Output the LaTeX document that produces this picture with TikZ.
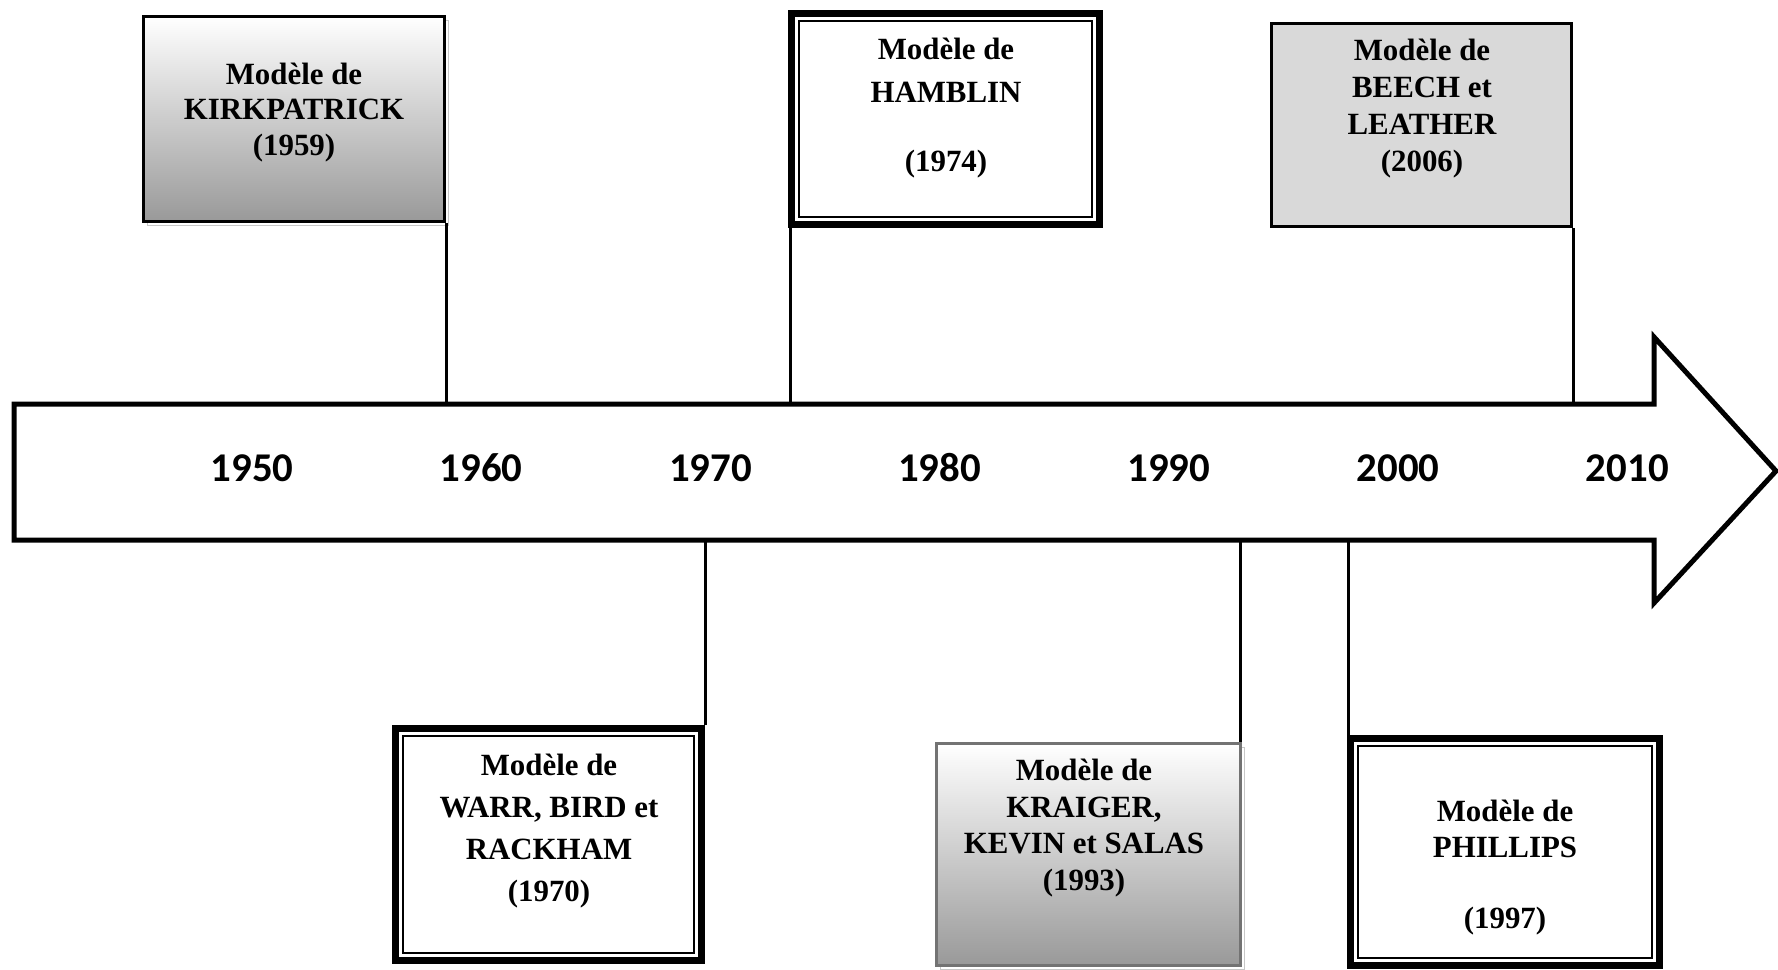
\documentclass[tikz,border=0pt]{standalone}
\usepackage{fontspec}
\setmainfont{Liberation Serif}
\newfontfamily\yearfont{Carlito}
\usetikzlibrary{positioning, calc}

\begin{document}
\begin{tikzpicture}[
    x=1bp, y=-1bp,
    node distance=146bp,
    model/.style={rectangle, draw, line width=3bp, inner sep=0pt},
    shaded/.style={model, top color=white, bottom color=black!40},
    framed/.style={rectangle, draw, line width=7bp, fill=white, inner sep=0pt},
    innerframe/.style={draw, line width=1.5bp},
    shadowed/.style={preaction={draw=black!22, line width=1.5bp, transform canvas={xshift=4bp, yshift=-4bp}}},
    txt/.style={font=\fontsize{31}{36}\selectfont\bfseries, align=center, inner sep=0pt},
    year/.style={font=\yearfont\bfseries\fontsize{41}{41}\selectfont, inner sep=0pt},
    link/.style={line width=3bp},
    timeline/.style={line width=5bp, line join=miter, fill=white}
]
    \useasboundingbox (0,0) rectangle (1778,969);

    % Time arrow
    \draw[timeline] (14,404) -- (1654,404) -- (1654,337) -- (1776,471)
        -- (1654,603) -- (1654,540) -- (14,540) -- cycle;
    \coordinate (bodytop) at (14,404);
    \coordinate (bodybot) at (14,540);

    % Decades
    \node[year] (y1950) at (252,468) {1950};
    \node[year, right=of y1950] (y1960) {1960};
    \node[year, right=of y1960] (y1970) {1970};
    \node[year, right=of y1970] (y1980) {1980};
    \node[year, right=of y1980] (y1990) {1990};
    \node[year, right=of y1990] (y2000) {2000};
    \node[year, right=of y2000] (y2010) {2010};

    % Models above the line
    \node[shaded, shadowed, minimum width=301bp, minimum height=205bp] (kirk) at (294,119) {};
    \node[txt] (kirktxt) at (294,112.5) {Modèle de\\KIRKPATRICK\\(1959)};

    \node[framed, minimum width=308bp, minimum height=211bp] (hamblin) at (945.5,119) {};
    \draw[innerframe] ([shift={(11,11)}]hamblin.north west) rectangle ([shift={(-11,-11)}]hamblin.south east);
    \node[txt] (hamblintxt) at (946,108) {Modèle de\\[7bp]HAMBLIN\\[33bp](1974)};

    \node[model, fill=black!15, minimum width=300bp, minimum height=203bp] (beech) at (1421.5,125) {};
    \node[txt, font=\fontsize{31}{37}\selectfont\bfseries] (beechtxt) at (1422,108.5) {Modèle de\\BEECH et\\LEATHER\\(2006)};

    % Models below the line
    \node[framed, minimum width=306bp, minimum height=232bp] (warr) at (548.5,844.5) {};
    \draw[innerframe] ([shift={(11,11)}]warr.north west) rectangle ([shift={(-11,-11)}]warr.south east);
    \node[txt, font=\fontsize{31}{42}\selectfont\bfseries] (warrtxt) at (549,831) {Modèle de\\WARR, BIRD et\\RACKHAM\\(1970)};

    \node[shaded, shadowed, draw=black!55, minimum width=304bp, minimum height=222bp] (kraiger) at (1088.5,854.5) {};
    \node[txt, font=\fontsize{31}{36.5}\selectfont\bfseries] (kraigertxt) at (1084,828) {Modèle de\\KRAIGER,\\KEVIN et SALAS\\(1993)};

    \node[framed, minimum width=309bp, minimum height=227bp] (phillips) at (1505,852) {};
    \draw[innerframe] ([shift={(11,11)}]phillips.north west) rectangle ([shift={(-11,-11)}]phillips.south east);
    \node[txt] (phillipstxt) at (1505,867.5) {Modèle de\\PHILLIPS\\[35bp](1997)};

    % Links to the time arrow
    \draw[link] (kirk.south east) -- (kirk.south east |- bodytop);
    \draw[link] ([xshift=2bp]hamblin.south west) -- ([xshift=2bp]hamblin.south west |- bodytop);
    \draw[link] (beech.south east) -- (beech.south east |- bodytop);
    \draw[link] (warr.north east) -- (warr.north east |- bodybot);
    \draw[link] ([xshift=-2bp]kraiger.north east) -- ([xshift=-2bp]kraiger.north east |- bodybot);
    \draw[link] ([xshift=1bp]phillips.north west) -- ([xshift=1bp]phillips.north west |- bodybot);
\end{tikzpicture}
\end{document}
